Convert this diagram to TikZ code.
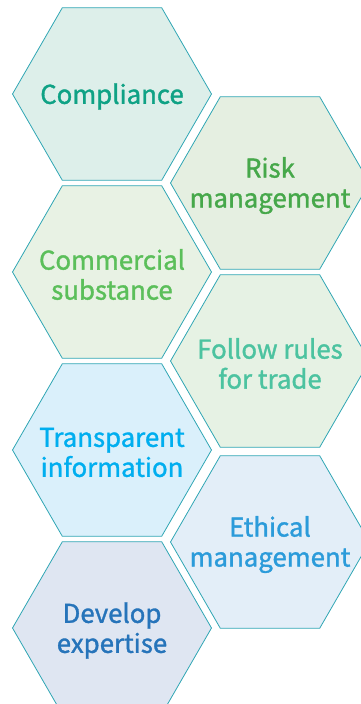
\documentclass[tikz,border=0pt]{standalone}
\usepackage{fontspec}
\setmainfont{Noto Sans CJK SC}[BoldFont={Noto Sans CJK SC}, BoldFeatures={FakeBold=1.3}]
\usepackage{tikz}
\usetikzlibrary{positioning, shapes.geometric}

\definecolor{edgeline}{HTML}{2FA6B4}
\definecolor{complfill}{HTML}{DDEFEA}
\definecolor{compltext}{HTML}{0FA285}
\definecolor{riskfill}{HTML}{E5EFE1}
\definecolor{risktext}{HTML}{46A84A}
\definecolor{commfill}{HTML}{E8F2E4}
\definecolor{commtext}{HTML}{5BBF5A}
\definecolor{rulefill}{HTML}{E6F2E4}
\definecolor{ruletext}{HTML}{4CC3A0}
\definecolor{tranfill}{HTML}{DAF0FB}
\definecolor{trantext}{HTML}{00AEEF}
\definecolor{ethfill}{HTML}{E3EEF8}
\definecolor{ethtext}{HTML}{2B9BDA}
\definecolor{devfill}{HTML}{DFE6F2}
\definecolor{devtext}{HTML}{2674BA}

\tikzstyle{hexa} = [regular polygon, regular polygon sides=6, minimum size=199pt, inner sep=0pt, draw=edgeline, line width=0.8pt]
\tikzstyle{hexlabel} = [align=center, inner sep=0pt, yshift=-2.5pt, font=\fontsize{25.8}{30}\selectfont\bfseries]

\begin{document}
\begin{tikzpicture}[x=1pt, y=-1pt, node distance=178pt]
\useasboundingbox (0,0) rectangle (361,704);
\clip (0,0) rectangle (361,704);

% left column
\node (compliance) [hexa, fill=complfill, label={[hexlabel, text=compltext]center:Compliance}] at (112,94) {};
\node (commercial) [hexa, fill=commfill, below of=compliance, label={[hexlabel, text=commtext]center:Commercial\\substance}] {};
\node (transparent) [hexa, fill=tranfill, below of=commercial, label={[hexlabel, text=trantext]center:Transparent\\information}] {};
\node (expertise) [hexa, fill=devfill, below of=transparent, label={[hexlabel, text=devtext]center:Develop\\expertise}] {};

% right column
\node (risk) [hexa, fill=riskfill, label={[hexlabel, text=risktext]center:Risk\\management}] at (270,183) {};
\node (rules) [hexa, fill=rulefill, below of=risk, label={[hexlabel, text=ruletext]center:Follow rules\\for trade}] {};
\node (ethical) [hexa, fill=ethfill, below of=rules, yshift=-3pt, label={[hexlabel, text=ethtext]center:Ethical\\management}] {};

\end{tikzpicture}
\end{document}
